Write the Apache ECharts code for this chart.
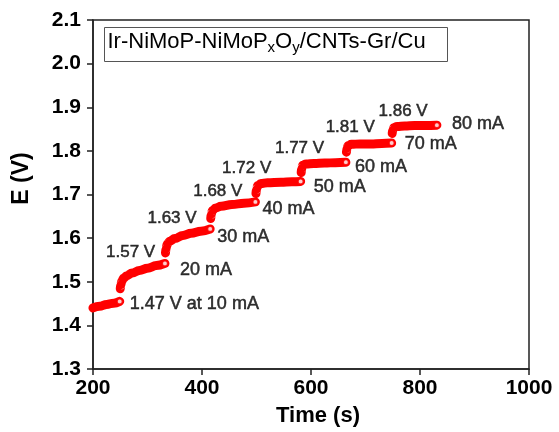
<!DOCTYPE html>
<html>
<head>
<meta charset="utf-8">
<script src="https://cdn.jsdelivr.net/npm/echarts@6/dist/echarts.min.js"></script>
<style>
  html, body { margin: 0; padding: 0; background: #fff; }
  #chart { width: 559px; height: 432px; }
</style>
</head>
<body>
<div id="chart"></div>
<script>
// Chronopotentiometric staircase: potential E (V) vs time (s), one step per current
const currents = ['10 mA', '20 mA', '30 mA', '40 mA', '50 mA', '60 mA', '70 mA', '80 mA'];

const step10 = [[200, 1.440], [212, 1.444], [225, 1.448], [238, 1.451], [249, 1.455]];
const step20 = [[250, 1.484], [251, 1.493], [253, 1.502], [256, 1.508], [262, 1.514], [272, 1.520],
                [285, 1.526], [300, 1.531], [316, 1.537], [332, 1.542]];
const step30 = [[333, 1.566], [334, 1.576], [336, 1.586], [341, 1.593], [350, 1.599], [365, 1.606],
                [380, 1.611], [398, 1.616], [415, 1.621]];
const step40 = [[416, 1.645], [417, 1.655], [419, 1.663], [425, 1.669], [435, 1.673], [455, 1.677],
                [477, 1.680], [498, 1.683]];
const step50 = [[499, 1.702], [500, 1.712], [502, 1.720], [508, 1.725], [520, 1.727], [545, 1.728],
                [565, 1.729], [581, 1.730]];
const step60 = [[582, 1.750], [583, 1.760], [585, 1.767], [591, 1.770], [605, 1.771], [625, 1.772],
                [645, 1.773], [664, 1.774]];
const step70 = [[665, 1.797], [666, 1.806], [668, 1.812], [674, 1.815], [690, 1.816], [710, 1.816],
                [730, 1.817], [748, 1.818]];
const step80 = [[749, 1.840], [750, 1.848], [752, 1.853], [758, 1.856], [772, 1.857], [790, 1.858],
                [810, 1.858], [831, 1.859]];

const steps = [step10, step20, step30, step40, step50, step60, step70, step80];

// Text written beside the end of each step
const endLabels = ['1.47 V at 10 mA', '20 mA', '30 mA', '40 mA', '50 mA', '60 mA', '70 mA', '80 mA'];

// Potential annotations and the (time, potential) point each one is centred on
const voltLabels = ['1.57 V', '1.63 V', '1.68 V', '1.72 V', '1.77 V', '1.81 V', '1.86 V'];
const voltLabelAt = [[269, 1.567], [345, 1.646], [429, 1.707], [482, 1.761], [579, 1.807], [672, 1.853], [769, 1.890]];

const xTicks = [200, 400, 600, 800, 1000];
const yTicks = [1.3, 1.4, 1.5, 1.6, 1.7, 1.8, 1.9, 2.0, 2.1];

const sampleName = 'Ir-NiMoP-NiMoPxOy/CNTs-Gr/Cu';

// layout: pixel nudges for the end-of-step labels
const endLabelNudge = [[7, 3], [12, 7], [4, 8], [4, 7], [10, 6], [6, 5], [10, 1], [12, -1]];

const FONT = 'Arial, "Liberation Sans", Helvetica, sans-serif';
const RED = '#ff0000';
const INK = '#000';

const chart = echarts.init(document.getElementById('chart'), null, { renderer: 'canvas' });

const stepSeries = steps.map((pts, i) => ({
  name: sampleName,
  id: 'step-' + currents[i],
  type: 'line',
  data: pts,
  smooth: 0.4,
  smoothMonotone: 'x',
  showSymbol: false,
  symbol: 'none',
  lineStyle: { color: RED, width: 9, cap: 'round', join: 'round' },
  silent: true,
  z: 3
}));

// Plain text style; a hairline outline in the same ink gives the annotations more weight
const textStyle = (size, weight, stroke) => ({
  fontFamily: FONT,
  fontSize: size,
  fontWeight: weight || 'normal',
  color: INK,
  textBorderColor: INK,
  textBorderWidth: stroke || 0,
  textShadowBlur: 0
});

const endSeries = {
  type: 'scatter',
  name: 'step ends',
  symbol: 'circle',
  symbolSize: 5,
  itemStyle: { color: '#fff', borderColor: RED, borderWidth: 1.2 },
  data: steps.map((pts, i) => ({
    value: pts[pts.length - 1],
    label: Object.assign({
      show: true,
      position: 'right',
      distance: 0,
      offset: endLabelNudge[i],
      formatter: endLabels[i]
    }, textStyle(18, 'normal', 0.5))
  })),
  silent: true,
  z: 4
};

const voltSeries = {
  type: 'scatter',
  name: 'potential labels',
  symbolSize: 0,
  data: voltLabelAt.map((p, i) => ({
    value: p,
    label: Object.assign({
      show: true,
      position: 'inside',
      formatter: voltLabels[i]
    }, textStyle(17, 'normal', 0.5))
  })),
  silent: true,
  z: 5
};

chart.setOption({
  animation: false,
  backgroundColor: '#fff',
  grid: {
    left: 93, right: 30, top: 20, bottom: 62,
    show: true, borderColor: '#222', borderWidth: 1.5, backgroundColor: 'transparent'
  },
  xAxis: {
    type: 'value',
    min: xTicks[0], max: xTicks[xTicks.length - 1], interval: 200,
    name: 'Time (s)',
    nameLocation: 'middle',
    nameGap: 36,
    nameTextStyle: Object.assign(textStyle(22, 'bold'), { padding: [0, 0, 0, 14] }),
    axisLine: { show: true, onZero: false, lineStyle: { color: '#222', width: 1.5 } },
    axisTick: { show: true, inside: false, length: 6, lineStyle: { color: '#222', width: 1.5 } },
    axisLabel: Object.assign(textStyle(21, 'bold'), { margin: 9, formatter: v => String(v) }),
    splitLine: { show: false }
  },
  yAxis: {
    type: 'value',
    min: yTicks[0], max: yTicks[yTicks.length - 1], interval: 0.1,
    name: 'E (V)',
    nameLocation: 'middle',
    nameGap: 60,
    nameTextStyle: Object.assign(textStyle(23, 'bold'), { padding: [0, 0, 0, 32] }),
    axisLine: { show: true, onZero: false, lineStyle: { color: '#222', width: 1.5 } },
    axisTick: { show: true, inside: false, length: 6, lineStyle: { color: '#222', width: 1.5 } },
    axisLabel: Object.assign(textStyle(21, 'bold'), { margin: 12, formatter: v => v.toFixed(1) }),
    splitLine: { show: false }
  },
  graphic: [{
    type: 'group',
    left: 104,
    top: 27,
    children: [
      {
        type: 'rect',
        shape: { x: 0, y: 0, width: 343, height: 34 },
        style: { fill: '#fff', stroke: '#555', lineWidth: 1 }
      },
      {
        type: 'text',
        x: 3,
        y: 14,
        style: {
          text: '{n|Ir-NiMoP-NiMoP}{s|x}{n|O}{s|y}{n|/CNTs-Gr/Cu}',
          verticalAlign: 'middle',
          align: 'left',
          rich: {
            n: { fontFamily: FONT, fontSize: 22, color: INK },
            s: { fontFamily: FONT, fontSize: 15, color: INK, padding: [12, 0, 0, 0] }
          }
        }
      }
    ]
  }],
  series: [...stepSeries, endSeries, voltSeries]
});
</script>
</body>
</html>
